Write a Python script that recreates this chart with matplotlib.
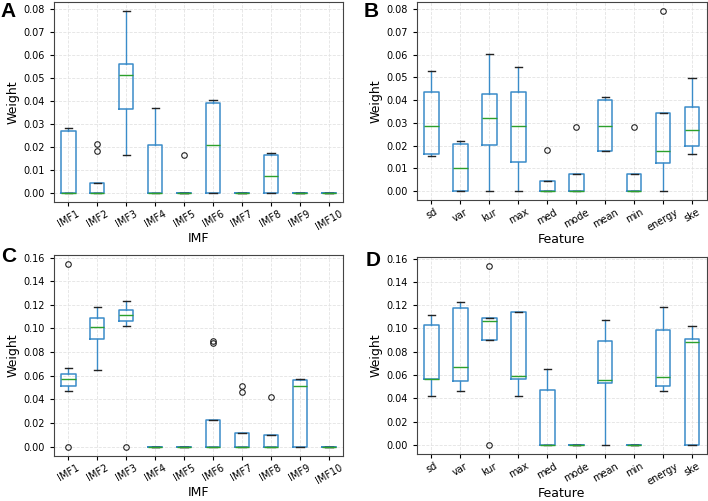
import matplotlib
matplotlib.use("Agg")
import matplotlib.pyplot as plt

imf_labels = ['IMF1', 'IMF2', 'IMF3', 'IMF4', 'IMF5', 'IMF6', 'IMF7', 'IMF8', 'IMF9', 'IMF10']
feat_labels = ['sd', 'var', 'kur', 'max', 'med', 'mode', 'mean', 'min', 'energy', 'ske']

# panel A (per IMF)
a_whislo = [0, 0, 0.0165, 0, 0, 0, 0, 0, 0, 0]
a_q1 = [0, 0, 0.0365, 0, 0, 0, 0, 0, 0, 0]
a_med = [0, 0, 0.0516, 0, 0, 0.0207, 0, 0.0075, 0, 0]
a_q3 = [0.0271, 0.0044, 0.0564, 0.0210, 0, 0.0394, 0, 0.0167, 0, 0]
a_whishi = [0.0283, 0.0045, 0.0793, 0.0371, 0, 0.0403, 0, 0.0175, 0, 0]
a_fliers = [[], [0.0212, 0.0183], [], [], [0.0165], [], [], [], [], []]

# panel B (per feature)
b_whislo = [0.0156, 0, 0, 0, 0, 0, 0.0176, 0, 0, 0.0164]
b_q1 = [0.0164, 0, 0.0201, 0.0127, 0, 0, 0.0177, 0, 0.0124, 0.0199]
b_med = [0.0285, 0.0103, 0.0321, 0.0284, 0, 0, 0.0285, 0, 0.0177, 0.0269]
b_q3 = [0.0436, 0.0208, 0.0429, 0.0436, 0.0045, 0.0073, 0.0399, 0.0073, 0.0343, 0.0368]
b_whishi = [0.0529, 0.0218, 0.0602, 0.0548, 0.0045, 0.0073, 0.0413, 0.0073, 0.0343, 0.0499]
b_fliers = [[], [], [], [], [0.0182], [0.0281], [], [0.0281], [0.0793], []]

# panel C (per IMF)
c_whislo = [0.0473, 0.0651, 0.1023, 0, 0, 0, 0, 0, 0, 0]
c_q1 = [0.0515, 0.0910, 0.1065, 0, 0, 0, 0, 0, 0, 0]
c_med = [0.0575, 0.1014, 0.1110, 0, 0, 0, 0, 0, 0.0515, 0]
c_q3 = [0.0617, 0.1087, 0.1158, 0, 0, 0.0225, 0.0115, 0.0101, 0.0563, 0]
c_whishi = [0.0668, 0.1180, 0.1231, 0, 0, 0.0225, 0.0115, 0.0101, 0.0575, 0]
c_fliers = [[0.0, 0.1544], [], [0.0], [], [], [0.0896, 0.0876], [0.0510, 0.0462], [0.0420], [], []]

# panel D (per feature)
d_whislo = [0.0418, 0.0463, 0.0898, 0.0418, 0, 0, 0, 0, 0.0466, 0]
d_q1 = [0.0565, 0.0551, 0.0898, 0.0568, 0, 0, 0.0531, 0, 0.0503, 0]
d_med = [0.0568, 0.0670, 0.1062, 0.0594, 0, 0, 0.0562, 0, 0.0582, 0.0883]
d_q3 = [0.1028, 0.1173, 0.1091, 0.1139, 0.0469, 0, 0.0892, 0, 0.0989, 0.0906]
d_whishi = [0.1119, 0.1224, 0.1091, 0.1139, 0.0650, 0, 0.1077, 0, 0.1182, 0.1020]
d_fliers = [[], [], [0.0, 0.1537], [], [], [], [], [], [], []]


def make_stats(labels, whislo, q1, med, q3, whishi, fliers):
    stats = []
    for i in range(len(labels)):
        stats.append({'label': labels[i], 'whislo': whislo[i], 'q1': q1[i], 'med': med[i],
                      'q3': q3[i], 'whishi': whishi[i], 'fliers': fliers[i]})
    return stats


def draw_panel(ax, stats, xlabel, yticks):
    ax.bxp(stats, widths=0.5,
           boxprops=dict(color='#3a8cc9', linewidth=1.1),
           whiskerprops=dict(color='#3a8cc9', linewidth=1.0),
           capprops=dict(color='#222222', linewidth=1),
           medianprops=dict(color='#2ca02c', linewidth=1),
           flierprops=dict(marker='o', markerfacecolor='none', markeredgecolor='#222222',
                           markersize=4, markeredgewidth=0.8))
    ax.grid(True, color='#e3e3e3', linestyle='--', linewidth=0.6)
    ax.set_axisbelow(True)
    ax.set_yticks(yticks)
    ax.set_yticklabels(['%.2f' % t for t in yticks], fontsize=7)
    ax.tick_params(axis='x', labelrotation=30, labelsize=7, pad=2)
    ax.tick_params(length=3)
    ax.set_xlabel(xlabel, fontsize=9, labelpad=0)
    ax.set_ylabel('Weight', fontsize=9, labelpad=3)
    for s in ax.spines.values():
        s.set_color('#444444')


fig = plt.figure(figsize=(7.08, 5.01), dpi=100)
axA = fig.add_axes([0.076, 0.597, 0.409, 0.399])
axB = fig.add_axes([0.589, 0.601, 0.409, 0.395])
axC = fig.add_axes([0.076, 0.090, 0.409, 0.401])
axD = fig.add_axes([0.589, 0.094, 0.409, 0.393])

yt1 = [0, 0.01, 0.02, 0.03, 0.04, 0.05, 0.06, 0.07, 0.08]
yt2 = [0, 0.02, 0.04, 0.06, 0.08, 0.10, 0.12, 0.14, 0.16]

draw_panel(axA, make_stats(imf_labels, a_whislo, a_q1, a_med, a_q3, a_whishi, a_fliers), 'IMF', yt1)
draw_panel(axB, make_stats(feat_labels, b_whislo, b_q1, b_med, b_q3, b_whishi, b_fliers), 'Feature', yt1)
draw_panel(axC, make_stats(imf_labels, c_whislo, c_q1, c_med, c_q3, c_whishi, c_fliers), 'IMF', yt2)
draw_panel(axD, make_stats(feat_labels, d_whislo, d_q1, d_med, d_q3, d_whishi, d_fliers), 'Feature', yt2)

letter_kw = dict(fontsize=15, fontweight='bold', family='Liberation Sans', va='top', ha='left')
fig.text(0.001, 0.997, 'A', **letter_kw)
fig.text(0.513, 0.997, 'B', **letter_kw)
fig.text(0.001, 0.506, 'C', **letter_kw)
fig.text(0.516, 0.500, 'D', **letter_kw)

fig.savefig('out.png', dpi=100)
